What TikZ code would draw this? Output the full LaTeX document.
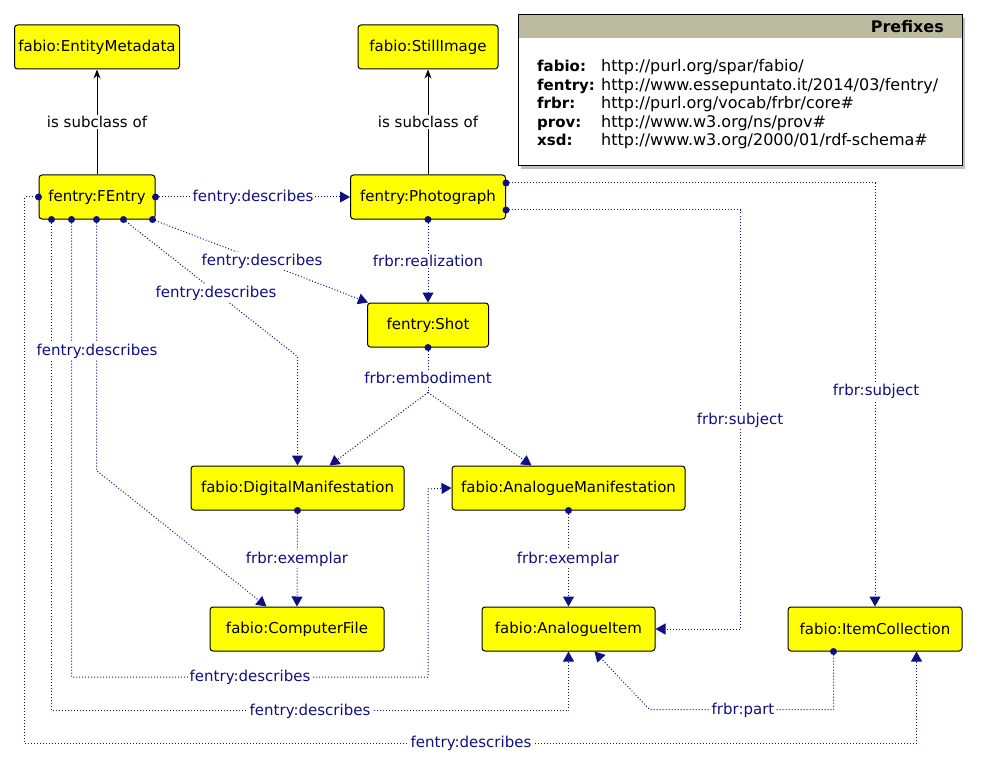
\documentclass[tikz,border=0pt]{standalone}
\usepackage{fontspec}
\setmainfont{DejaVu Sans}
\usetikzlibrary{arrows.meta,calc}
\definecolor{navyc}{RGB}{16,16,128}
\definecolor{hdr}{RGB}{188,187,160}
\definecolor{boxyellow}{RGB}{255,255,0}
\begin{document}
\begin{tikzpicture}[x=1pt,y=-1pt,font=\fontsize{15}{18}\selectfont,
  cls/.style={draw=black,line width=1pt,fill=boxyellow,rounded corners=3pt,minimum height=44pt,inner sep=0pt,text=black},
  lbl/.style={fill=white,text=navyc,inner sep=1.5pt},
  sublbl/.style={fill=white,text=black,inner sep=1.5pt},
  rel/.style={draw=navyc,line width=1pt,dash pattern=on 1pt off 2pt,-{Triangle[length=10pt,width=11pt]}},
  reln/.style={draw=navyc,line width=1pt,dash pattern=on 1pt off 2pt},
  isa/.style={draw=black,line width=1pt,-{Stealth[length=9pt,width=7pt]}},
  pfx/.style={anchor=base west,inner sep=0pt,font=\fontsize{15}{18}\selectfont\bfseries},
  url/.style={anchor=base west,inner sep=0pt,font=\fontsize{16}{19}\selectfont}]
\useasboundingbox (0,0) rectangle (982,770);

% prefixes box
\fill[black!25] (521,18) rectangle (965,169);
\fill[white] (518,15) rectangle (962,166);
\fill[hdr] (518,15) rectangle (962,38);
\draw[line width=1pt] (518,15) rectangle (962,166);
\node[anchor=east,inner sep=0pt,font=\fontsize{16}{19}\selectfont\bfseries] (ptitle) at (944,27) {Prefixes};
\node[pfx] (p1) at (537,72) {fabio:};
\node[pfx] (p2) at (537,90.5) {fentry:};
\node[pfx] (p3) at (537,109) {frbr:};
\node[pfx] (p4) at (537,127.5) {prov:};
\node[pfx] (p5) at (537,146) {xsd:};
\node[url] (u1) at (601,72) {http://purl.org/spar/fabio/};
\node[url] (u2) at (601,90.5) {http://www.essepuntato.it/2014/03/fentry/};
\node[url] (u3) at (601,109) {http://purl.org/vocab/frbr/core\#};
\node[url] (u4) at (601,127.5) {http://www.w3.org/ns/prov\#};
\node[url] (u5) at (601,146) {http://www.w3.org/2000/01/rdf-schema\#};

% classes
\node[cls,minimum width=165pt] (em) at (97,47) {fabio:EntityMetadata};
\node[cls,minimum width=140pt] (si) at (428,47) {fabio:StillImage};
\node[cls,minimum width=116pt] (fe) at (97,197) {fentry:FEntry};
\node[cls,minimum width=155pt] (ph) at (428,197) {fentry:Photograph};
\node[cls,minimum width=121pt] (sh) at (428,325) {fentry:Shot};
\node[cls,minimum width=213pt] (dm) at (297.5,488) {fabio:DigitalManifestation};
\node[cls,minimum width=233pt] (am) at (568.5,488) {fabio:AnalogueManifestation};
\node[cls,minimum width=174pt] (cf) at (297,629) {fabio:ComputerFile};
\node[cls,minimum width=173pt] (ai) at (568.5,629) {fabio:AnalogueItem};
\node[cls,minimum width=174pt] (ic) at (875,629) {fabio:ItemCollection};

% source points
\coordinate (feE) at (fe.east);
\coordinate (feW) at (fe.west);
\coordinate (feB1) at ($(fe.south west)+(13,0)$);
\coordinate (feB2) at ($(fe.south west)+(33,0)$);
\coordinate (feB3) at ($(fe.south west)+(58,0)$);
\coordinate (feB4) at ($(fe.south west)+(85,0)$);
\coordinate (feB5) at ($(fe.south west)+(114,0)$);
\coordinate (phB) at (ph.south);
\coordinate (phR1) at ($(ph.east)+(0,-14)$);
\coordinate (phR2) at ($(ph.east)+(0,13)$);
\coordinate (shB) at (sh.south);
\coordinate (dmB) at (dm.south);
\coordinate (amB) at (am.south);
\coordinate (icB) at ($(ic.south west)+(46,0)$);
\coordinate (embsplit) at ($(sh.south)+(0,45)$);

% subclass
\draw[isa] (fe.north) -- (em.south);
\draw[isa] (ph.north) -- (si.south);

% relations
\draw[rel] (feE) -- (ph.west);
\draw[rel] (feB5) -- ($(sh.north west)+(1,0)$);
\draw[rel] (feB4) -- ($(dm.north)+(0,-109)$) -- (dm.north);
\draw[rel] (feB3) -- ($(feB3)+(0,251)$) -- ($(cf.north west)+(57,0)$);
\draw[rel] (feB2) |- (428,677) -- (428,489) -- (am.west);
\draw[rel] (feB1) |- ($(ai.south)+(0,59)$) -- (ai.south);
\draw[rel] (feW) -- ++(-14,0) |- ($(ic.south west)+(129,92)$) -- ($(ic.south west)+(129,0)$);
\draw[rel] (phB) -- (sh.north);
\draw[rel] (phR1) -| (ic.north);
\draw[rel] (phR2) -| ($(ai.east)+(85,0)$) -- (ai.east);
\draw[reln] (shB) -- (embsplit);
\draw[rel] (embsplit) -- ($(dm.north west)+(139,0)$);
\draw[rel] (embsplit) -- ($(am.north west)+(80,0)$);
\draw[rel] (dmB) -- (cf.north);
\draw[rel] (amB) -- (ai.north);
\draw[rel] (icB) -- ++(0,58) -- ++(-184,0) -- ($(ai.south west)+(113,0)$);

% dots
\foreach \c in {feE,feW,feB1,feB2,feB3,feB4,feB5,phB,phR1,phR2,shB,dmB,amB,icB}
  \fill[navyc] (\c) circle (3.5pt);

% labels
\node[sublbl] (s1) at (97,122) {is subclass of};
\node[sublbl] (s2) at (428,122) {is subclass of};
\node[lbl] (l1) at (253,197) {fentry:describes};
\node[lbl] (l2) at (262,261) {fentry:describes};
\node[lbl] (l3) at (216,293) {fentry:describes};
\node[lbl] (l4) at (97,351) {fentry:describes};
\node[lbl] (l5) at (428,261) {frbr:realization};
\node[lbl] (l6) at (428,378) {frbr:embodiment};
\node[lbl] (l7) at (297,559) {frbr:exemplar};
\node[lbl] (l8) at (568,559) {frbr:exemplar};
\node[lbl] (l9) at (740,420) {frbr:subject};
\node[lbl] (l10) at (876,391) {frbr:subject};
\node[lbl] (l11) at (250,677) {fentry:describes};
\node[lbl] (l12) at (310,711) {fentry:describes};
\node[lbl] (l13) at (471,743) {fentry:describes};
\node[lbl] (l14) at (743,710) {frbr:part};
\end{tikzpicture}
\end{document}
